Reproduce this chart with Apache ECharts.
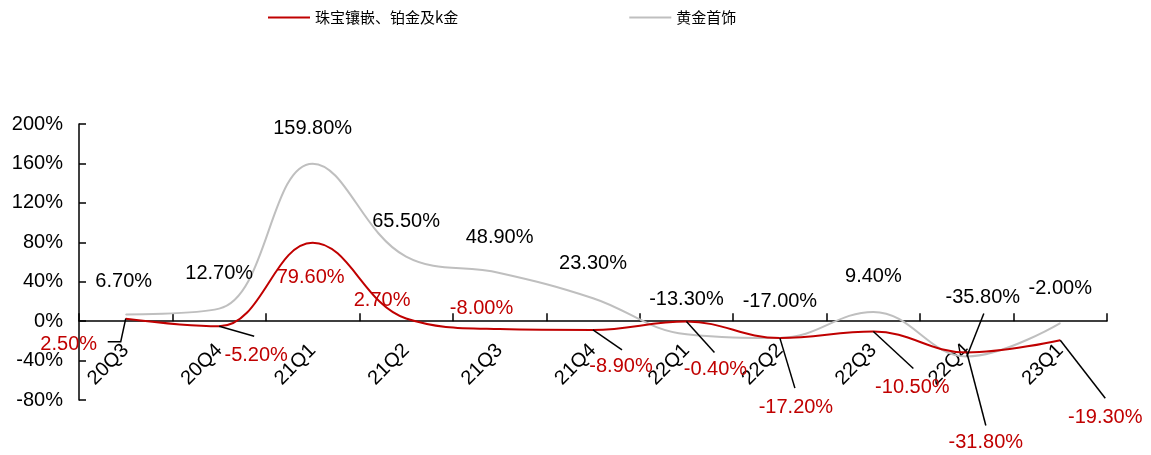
<!DOCTYPE html>
<html>
<head>
<meta charset="utf-8">
<script src="https://cdn.jsdelivr.net/npm/echarts@6/dist/echarts.min.js"></script>
<style>
  html, body { margin: 0; padding: 0; background: #fff; }
  #chart { width: 1151px; height: 455px; }
</style>
</head>
<body>
<div id="chart"></div>
<script>
// Quarterly year-on-year growth (%)
const quarters = ['20Q3', '20Q4', '21Q1', '21Q2', '21Q3', '21Q4', '22Q1', '22Q2', '22Q3', '22Q4', '23Q1'];
const jewelryName = '珠宝镶嵌、铂金及k金';
const goldName = '黄金首饰';
const jewelryGrowth = [2.5, -5.2, 79.6, 2.7, -8.0, -8.9, -0.4, -17.2, -10.5, -31.8, -19.3];
const goldGrowth = [6.7, 12.7, 159.8, 65.5, 48.9, 23.3, -13.3, -17.0, 9.4, -35.8, -2.0];
const yMin = -80, yMax = 200, yStep = 40;

// Label placement: [dx, dy] of the label centre from its point
const jewelryLabelPlace = [
  [-57, 26], [37, 29], [-2, 35], [-24, -18], [-18, -21],
  [28, 37], [29, 48], [16, 69], [39, 56], [19, 90], [45, 77]
];
const goldLabelPlace = [
  [-2, -33], [0, -35], [0, -35], [0, -35], [0, -35],
  [0, -35], [0, -35], [0, -36], [0, -35], [16, -59], [0, -35]
];
// Leader lines: pixel offsets (from the point) of each polyline vertex after the point
const jewelryLeaders = [
  [[-5, 23], [-18, 23]], [[35, 10]], null, null, null,
  [[29, 20]], [[28, 31]], [[15, 50]], [[40, 37]], [[19, 73]], [[45, 58]]
];
const goldLeaders = [null, null, null, null, null, null, null, null, null, [[17, -43]], null];

const RED = '#C00000';
const GREY = '#BFBFBF';
const FONT = '"Liberation Sans", Arial, sans-serif';

// grid box
const GRID = { left: 79, right: 44, top: 124, bottom: 55 };
const gridHeight = 455 - GRID.top - GRID.bottom;
// shift the category axis up so it sits on the 0% line
const zeroOffset = -gridHeight * (0 - yMin) / (yMax - yMin);

function pct(v) { return v.toFixed(2) + '%'; }

function makeSeries(name, values, place, color, labelColor) {
  return {
    name: name,
    type: 'line',
    smooth: 0.4,
    symbol: 'circle',
    symbolSize: 1,
    showSymbol: true,
    itemStyle: { color: color },
    lineStyle: { color: color, width: 2 },
    emphasis: { disabled: true },
    z: 3,
    data: values,
    label: {
      show: true,
      position: 'inside',
      color: labelColor,
      fontFamily: FONT,
      fontSize: 20,
      formatter: p => pct(p.value)
    },
    labelLayout: function (params) {
      const c = place[params.dataIndex];
      return { dx: c[0], dy: c[1] };
    }
  };
}

function makeLeaders(values, leaders) {
  return {
    type: 'custom',
    silent: true,
    z: 4,
    data: values.map((v, i) => [i, v]),
    renderItem: function (params, api) {
      const segs = leaders[params.dataIndex];
      if (!segs) return null;
      const p = api.coord([api.value(0), api.value(1)]);
      const pts = [p].concat(segs.map(s => [p[0] + s[0], p[1] + s[1]]));
      return {
        type: 'polyline',
        shape: { points: pts },
        style: { stroke: '#000', lineWidth: 1.5, fill: null }
      };
    }
  };
}

const chart = echarts.init(document.getElementById('chart'), null, { renderer: 'canvas' });
chart.setOption({
  animation: false,
  backgroundColor: '#fff',
  textStyle: { fontFamily: FONT },
  legend: {
    left: 263,
    top: 5,
    icon: 'rect',
    itemWidth: 42,
    itemHeight: 2,
    itemGap: 171,
    textStyle: { fontFamily: '"Noto Sans CJK SC", sans-serif', fontSize: 15, color: '#000' },
    data: [jewelryName, goldName]
  },
  grid: { left: GRID.left, right: GRID.right, top: GRID.top, bottom: GRID.bottom, containLabel: false, outerBoundsMode: 'none' },
  xAxis: {
    type: 'category',
    data: quarters,
    position: 'bottom',
    offset: zeroOffset,
    boundaryGap: true,
    axisLine: { show: true, onZero: false, lineStyle: { color: '#000', width: 1.5 } },
    axisTick: { show: true, interval: 0, alignWithLabel: false, inside: true, length: 8, lineStyle: { color: '#000', width: 1.5 } },
    axisLabel: { rotate: 45, interval: 0, margin: 26, fontSize: 20, color: '#000', fontFamily: FONT },
    splitLine: { show: false }
  },
  yAxis: {
    type: 'value',
    min: yMin,
    max: yMax,
    interval: yStep,
    axisLine: { show: true, lineStyle: { color: '#000', width: 1.5 } },
    axisTick: { show: true, inside: true, length: 7, lineStyle: { color: '#000', width: 1.5 } },
    axisLabel: { fontSize: 20, color: '#000', margin: 16, fontFamily: FONT, formatter: v => v + '%' },
    splitLine: { show: false }
  },
  series: [
    makeSeries(goldName, goldGrowth, goldLabelPlace, GREY, '#000'),
    makeSeries(jewelryName, jewelryGrowth, jewelryLabelPlace, RED, RED),
    makeLeaders(jewelryGrowth, jewelryLeaders),
    makeLeaders(goldGrowth, goldLeaders)
  ]
});
</script>
</body>
</html>
